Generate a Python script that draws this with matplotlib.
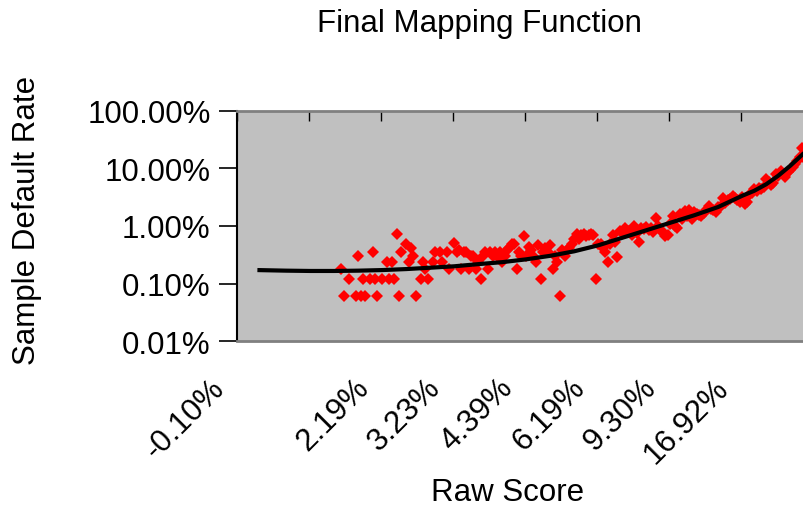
import numpy as np
import matplotlib
matplotlib.use("Agg")
import matplotlib.pyplot as plt
from matplotlib.transforms import ScaledTranslation

# ---------------- data ----------------
x_tick_labels = ["-0.10%", "", "2.19%", "3.23%", "4.39%", "6.19%", "9.30%", "16.92%"]
y_tick_values = [0.01, 0.1, 1, 10, 100]
y_tick_labels = ["0.01%", "0.10%", "1.00%", "10.00%", "100.00%"]

n_bins = 240

bin_index = [
    43, 44, 46, 49, 50, 51, 52, 53, 55, 56, 57, 58, 60, 62, 63, 64, 65, 66, 67, 68,
    70, 71, 72, 73, 74, 76, 77, 78, 79, 81, 82, 84, 85, 87, 88, 90, 91, 92, 93, 94,
    95, 96, 97, 98, 99, 100, 101, 102, 103, 104, 105, 106, 107, 108, 109, 110, 111, 112, 113, 114,
    115, 116, 117, 118, 119, 120, 121, 122, 123, 124, 125, 126, 127, 128, 129, 130, 131, 132, 133, 134,
    135, 136, 137, 138, 139, 140, 141, 142, 143, 144, 145, 146, 147, 148, 149, 150, 151, 152, 153, 154,
    155, 156, 157, 158, 159, 160, 161, 162, 163, 164, 165, 166, 167, 168, 169, 170, 171, 172, 173, 174,
    175, 176, 177, 178, 179, 180, 181, 182, 183, 184, 185, 186, 187, 188, 189, 190, 191, 192, 193, 194,
    195, 196, 197, 198, 199, 200, 201, 202, 203, 204, 205, 206, 207, 208, 209, 210, 211, 212, 213, 214,
    215, 216, 217, 218, 219, 220, 221, 222, 223, 224, 225, 226, 227, 228, 229, 230, 231, 232, 233, 234,
    235, 236, 237, 238, 239,
]
default_rate_pct = [
    0.18, 0.06, 0.12, 0.06, 0.30, 0.06, 0.12, 0.06, 0.12, 0.36, 0.12, 0.06, 0.12, 0.24, 0.12, 0.24, 0.12, 0.72, 0.06, 0.36,
    0.48, 0.24, 0.42, 0.30, 0.06, 0.12, 0.24, 0.18, 0.12, 0.24, 0.36, 0.36, 0.24, 0.36, 0.18, 0.50, 0.36, 0.39, 0.18, 0.36,
    0.36, 0.18, 0.30, 0.30, 0.18, 0.24, 0.12, 0.30, 0.36, 0.18, 0.36, 0.30, 0.36, 0.30, 0.36, 0.24, 0.30, 0.39, 0.42, 0.48,
    0.48, 0.18, 0.36, 0.30, 0.66, 0.30, 0.44, 0.39, 0.30, 0.24, 0.46, 0.12, 0.36, 0.42, 0.36, 0.46, 0.18, 0.30, 0.24, 0.06,
    0.39, 0.30, 0.38, 0.42, 0.48, 0.59, 0.72, 0.59, 0.70, 0.72, 0.66, 0.70, 0.72, 0.70, 0.12, 0.48, 0.48, 0.42, 0.36, 0.24,
    0.48, 0.70, 0.52, 0.29, 0.82, 0.80, 0.94, 0.78, 0.82, 0.70, 1.00, 0.75, 0.52, 0.94, 0.87, 0.98, 0.85, 0.94, 0.78, 1.35,
    1.00, 0.82, 0.78, 0.67, 0.70, 1.10, 1.50, 1.00, 0.94, 1.60, 1.30, 1.82, 1.50, 1.90, 1.30, 1.75, 1.60, 1.55, 1.50, 1.70,
    1.90, 2.23, 2.00, 1.90, 1.73, 2.10, 2.23, 3.10, 2.50, 2.80, 2.90, 3.30, 3.00, 2.80, 2.60, 3.20, 2.40, 2.60, 3.40, 3.70,
    4.30, 4.00, 4.50, 4.30, 4.80, 6.60, 5.80, 5.20, 5.60, 7.90, 7.30, 9.00, 8.00, 7.20, 8.60, 9.50, 10.6, 12.0, 13.5, 15.5,
    22.9, 14.4, 17.0, 21.0, 24.0,
]

curve_bin = [8, 20, 30, 40, 50, 60, 70, 80, 90, 100, 110, 120, 130, 140, 150, 160, 170, 180,
             190, 200, 210, 215, 220, 225, 230, 235, 239]
curve_rate_pct = [0.172, 0.168, 0.166, 0.166, 0.168, 0.172, 0.179, 0.189, 0.200, 0.218, 0.236,
                  0.264, 0.304, 0.364, 0.462, 0.624, 0.842, 1.137, 1.534, 2.137, 3.344, 4.08,
                  5.30, 7.44, 11.09, 17.22, 25.2]

# ---------------- figure ----------------
W, H = 804, 510
fig = plt.figure(figsize=(W / 100, H / 100), dpi=100)
plt.rcParams["font.family"] = ["Liberation Sans", "DejaVu Sans"]
FS = 22.5

ax_left, ax_right, ax_top, ax_bottom = 237, 813, 111.7, 342.3
ax = fig.add_axes([ax_left / W, 1 - ax_bottom / H, (ax_right - ax_left) / W, (ax_bottom - ax_top) / H])
ax.set_facecolor("#C0C0C0")

ax.plot(curve_bin, curve_rate_pct, color="black", lw=3.0, solid_capstyle="butt", zorder=3)
ax.plot(bin_index, default_rate_pct, linestyle="none", marker="D", markersize=6.5,
        color="#FF0000", markeredgewidth=0, zorder=2)

ax.set_yscale("log")
ax.set_ylim(0.01, 100)
ax.set_xlim(-0.5, n_bins - 0.5)
ax.set_yticks(y_tick_values)
ax.set_yticklabels(y_tick_labels, fontsize=FS)
ax.yaxis.set_minor_locator(matplotlib.ticker.NullLocator())
ax.tick_params(axis="y", direction="out", length=13, width=1.2, pad=6, colors="black")

xt = np.arange(len(x_tick_labels)) * 30 - 0.5
ax.set_xticks(xt)
ax.set_xticklabels(x_tick_labels, fontsize=FS, rotation=45, ha="right", va="center",
                   rotation_mode="anchor")
ax.tick_params(axis="x", which="both", bottom=False, top=True, direction="in", length=7,
               width=1.0, labelbottom=True, labeltop=False, pad=30)
offset = ScaledTranslation(-17 / 100, 0, fig.dpi_scale_trans)
for lbl in ax.get_xticklabels():
    lbl.set_transform(lbl.get_transform() + offset)

for side in ["top", "bottom", "right"]:
    ax.spines[side].set_color("#808080")
    ax.spines[side].set_linewidth(2)
ax.spines["left"].set_color("black")
ax.spines["left"].set_linewidth(1.5)

fig.text(479 / W, 1 - 24 / H, "Final Mapping Function", ha="center", va="center", fontsize=FS)
fig.text(507.5 / W, 1 - 493 / H, "Raw Score", ha="center", va="center", fontsize=FS)
fig.text(27 / W, 1 - 220 / H, "Sample Default Rate", ha="center", va="center",
         rotation=90, fontsize=FS)

fig.savefig("out.png", dpi=100)
